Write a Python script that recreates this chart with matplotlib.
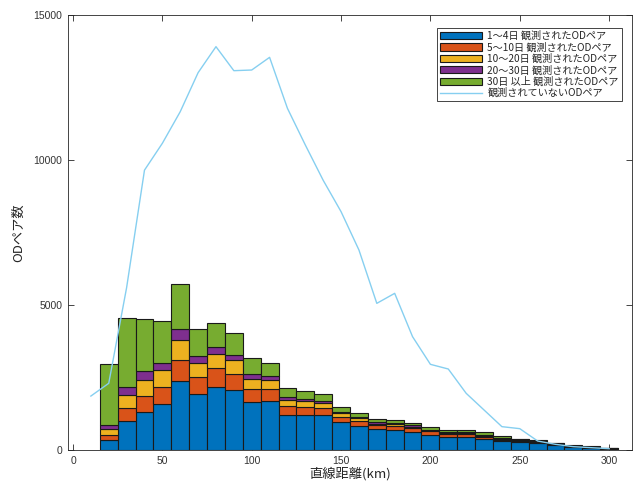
import matplotlib
matplotlib.use("Agg")
import matplotlib.pyplot as plt
import numpy as np

# ---- data ----
bin_centers = [20, 30, 40, 50, 60, 70, 80, 90, 100, 110, 120, 130, 140, 150, 160,
               170, 180, 190, 200, 210, 220, 230, 240, 250, 260, 270, 280, 290, 300]
obs_1_4   = [346, 1005, 1294, 1594, 2368, 1940, 2171, 2056, 1670, 1680, 1206, 1206, 1203, 960, 820,
             718, 684, 620, 522, 450, 452, 374, 305, 270, 247, 165, 104, 68, 40]
obs_5_10  = [185, 439, 577, 589, 750, 566, 659, 577, 430, 420, 305, 276, 250, 170, 180,
             127, 144, 126, 116, 90, 88, 86, 57, 52, 43, 35, 26, 22, 10]
obs_10_20 = [197, 462, 554, 566, 659, 509, 485, 462, 345, 315, 200, 200, 180, 134, 110,
             63, 68, 59, 46, 57, 57, 40, 23, 28, 20, 15, 15, 15, 7]
obs_20_30 = [150, 265, 289, 254, 393, 231, 242, 185, 175, 130, 125, 85, 60, 46, 45,
             46, 34, 40, 22, 23, 23, 10, 23, 20, 15, 10, 10, 10, 5]
obs_30p   = [2102, 2368, 1790, 1432, 1559, 924, 832, 739, 540, 450, 310, 280, 225, 160, 125,
             104, 98, 103, 104, 81, 80, 110, 69, 26, 20, 15, 17, 11, 7]

line_x = [10, 20, 30, 40, 50, 60, 70, 80, 90, 100, 110, 120, 130, 140, 150,
          160, 170, 180, 190, 200, 210, 220, 230, 240, 250, 260, 270, 280, 290, 300]
not_observed = [1860, 2300, 5600, 9650, 10576, 11666, 13011, 13908, 13080, 13103, 13540, 11781,
                10517, 9300, 8218, 6897, 5057, 5402, 3908, 2954, 2793, 1955, 1380, 805, 736,
                310, 195, 115, 80, 45]

labels = ["1～4日 観測されたODペア", "5～10日 観測されたODペア", "10～20日 観測されたODペア",
          "20～30日 観測されたODペア", "30日 以上 観測されたODペア", "観測されていないODペア"]
colors = ["#0072BD", "#D95319", "#EDB120", "#7E2F8E", "#77AC30"]
line_color = "#86CFF0"

cjk = ["Noto Sans CJK JP", "DejaVu Sans"]
plt.rcParams['font.family'] = cjk

fig = plt.figure(figsize=(6.37, 4.84), dpi=100)
ax = fig.add_axes([68/637, 1 - 450/484, 564/637, 435/484])

series = [obs_1_4, obs_5_10, obs_10_20, obs_20_30, obs_30p]
bottom = np.zeros(len(bin_centers))
handles = []
for vals, c, lab in zip(series, colors, labels[:5]):
    h = ax.bar(bin_centers, vals, width=10, bottom=bottom, color=c,
               edgecolor="#1a1a1a", linewidth=0.8, label=lab, zorder=2)
    handles.append(h)
    bottom = bottom + np.array(vals)

ln, = ax.plot(line_x, not_observed, color=line_color, linewidth=1.0, label=labels[5], zorder=3)
handles.append(ln)

ax.set_xlim(-2.8, 312.8)
ax.set_ylim(0, 15000)
ax.set_xticks([0, 50, 100, 150, 200, 250, 300])
ax.set_yticks([0, 5000, 10000, 15000])

tick_col = "#262626"
for sp in ax.spines.values():
    sp.set_color(tick_col)
    sp.set_linewidth(0.6)
ax.tick_params(direction="in", length=4, width=0.6, color=tick_col,
               top=True, right=True, labelsize=7.5, labelcolor="#333333", pad=4)
for lbl in ax.get_xticklabels() + ax.get_yticklabels():
    lbl.set_family(["Liberation Sans", "DejaVu Sans"])

ax.set_xlabel("直線距離(km)", fontsize=9.5, color=tick_col, labelpad=1)
ax.set_ylabel("ODペア数", fontsize=9.5, color=tick_col, labelpad=6)

leg = ax.legend(handles=handles, labels=labels, loc="upper right",
                bbox_to_anchor=(0.982, 0.971), fontsize=7.3, frameon=True, fancybox=False,
                edgecolor=tick_col, framealpha=1, handlelength=4.2, handleheight=0.75,
                handletextpad=0.5, labelspacing=0.12, borderpad=0.3, borderaxespad=0)
leg.get_frame().set_linewidth(0.6)
for t in leg.get_texts():
    t.set_color(tick_col)

fig.savefig("out.png", dpi=100)
